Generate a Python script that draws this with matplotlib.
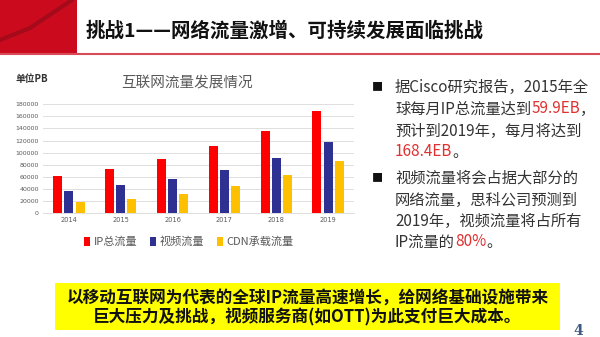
import matplotlib
matplotlib.use("Agg")
import matplotlib.pyplot as plt
import numpy as np
from matplotlib.patches import Rectangle
from matplotlib.lines import Line2D

plt.rcParams['font.family'] = ['Noto Sans CJK SC', 'DejaVu Sans']

# ---- data ----
years = ["2014", "2015", "2016", "2017", "2018", "2019"]
ip_total = [60500, 72900, 89400, 110400, 136400, 168400]
video = [35900, 45800, 56300, 71800, 90500, 117000]
cdn = [17700, 23700, 31500, 44200, 62400, 85600]
series_names = ["IP总流量", "视频流量", "CDN承载流量"]
yticks = [0, 20000, 40000, 60000, 80000, 100000, 120000, 140000, 160000, 180000]

slide_title = "挑战1——网络流量激增、可持续发展面临挑战"
chart_title = "互联网流量发展情况"
unit_label = "单位PB"
bottom_lines = ["以移动互联网为代表的全球IP流量高速增长，给网络基础设施带来",
                "巨大压力及挑战，视频服务商(如OTT)为此支付巨大成本。"]
page_no = "4"

W, H = 600, 337
fig = plt.figure(figsize=(W / 100, H / 100), dpi=100)
fig.patch.set_facecolor("white")


def P(x, y):
    return (x / W, 1 - y / H)


RED = "#cc0a1e"

# ---- header decoration ----
fig.patches.append(Rectangle(P(0, 53), 77 / W, 53 / H, transform=fig.transFigure,
                             facecolor=RED, edgecolor="none", zorder=1))
fig.lines.append(Line2D([0, 1], [1 - 53.5 / H, 1 - 53.5 / H], transform=fig.transFigure,
                        color="#d84a55", linewidth=1.5, zorder=2))
fig.lines.append(Line2D([0 / W, 30 / W, 72 / W], [1 - 40 / H, 1 - 28 / H, 1 - 0 / H],
                        transform=fig.transFigure, color="#5a0a12", alpha=0.35,
                        linewidth=3, zorder=2, solid_capstyle="round"))
fig.text(*P(86, 31), slide_title, fontsize=14, fontweight="bold", color="#111111",
         ha="left", va="center")

# ---- chart ----
ax = fig.add_axes([43 / W, 1 - 213 / H, (354 - 43) / W, (213 - 104.3) / H])
x = np.arange(len(years))
bw = 0.175
off = 0.215
cols = ["#ff0000", "#2e3192", "#ffc000"]
for i, (vals, c, name) in enumerate(zip([ip_total, video, cdn], cols, series_names)):
    ax.bar(x + (i - 1) * off, vals, width=bw, color=c, label=name, zorder=3)
ax.set_xlim(-0.5, len(years) - 0.5)
ax.set_ylim(0, 180000)
ax.set_yticks(yticks)
ax.set_yticklabels([str(v) for v in yticks], fontsize=4.5, color="#595959",
                   family="DejaVu Sans")
ax.set_xticks(x)
ax.set_xticklabels(years, fontsize=4.8, color="#595959", family="DejaVu Sans")
ax.tick_params(length=0, pad=3)
ax.grid(axis="y", color="#d9d9d9", linewidth=0.6, zorder=0)
for s in ["top", "right", "left"]:
    ax.spines[s].set_visible(False)
ax.spines["bottom"].set_color("#d9d9d9")
ax.spines["bottom"].set_linewidth(0.6)

fig.text(*P(187, 83), chart_title, fontsize=10.5, color="#595959", ha="center", va="center")
fig.text(*P(15, 79), unit_label, fontsize=7, color="#333333", ha="left", va="center",
         fontweight="bold")

leg = ax.legend(loc="center", bbox_to_anchor=P(189, 242), bbox_transform=fig.transFigure,
                ncol=3, frameon=False, fontsize=8, handlelength=0.55, handleheight=0.9,
                handletextpad=0.35, columnspacing=1.1, labelcolor="#595959")

# ---- right text ----
TXT = "#333333"
RED_T = "#e03030"
fig.canvas.draw()
renderer = fig.canvas.get_renderer()


def rich_line(x0, y, parts, fs=11):
    xpos = x0
    for s, c in parts:
        t = fig.text(xpos / W, 1 - y / H, s, fontsize=fs, color=c, ha="left", va="center")
        bb = t.get_window_extent(renderer=renderer)
        xpos += bb.width * 100 / fig.dpi


lines1 = [
    [("据Cisco研究报告，2015年全", TXT)],
    [("球每月IP总流量达到", TXT), ("59.9EB", RED_T), ("，", TXT)],
    [("预计到2019年，每月将达到", TXT)],
    [("168.4EB", RED_T), ("。", TXT)],
]
lines2 = [
    [("视频流量将会占据大部分的", TXT)],
    [("网络流量，思科公司预测到", TXT)],
    [("2019年，视频流量将占所有", TXT)],
    [("IP流量的", TXT), ("80%", RED_T), ("。", TXT)],
]
ys1 = [87, 109, 131, 152]
ys2 = [178, 200, 221, 242]
for parts, y in zip(lines1, ys1):
    rich_line(395, y, parts)
for parts, y in zip(lines2, ys2):
    rich_line(395, y, parts)
fig.text(*P(377, 87), "■", fontsize=8, color="#111111", ha="center", va="center")
fig.text(*P(377, 178), "■", fontsize=8, color="#111111", ha="center", va="center")

# ---- bottom box ----
fig.patches.append(Rectangle(P(55, 330), (560 - 55) / W, (330 - 283) / H,
                             transform=fig.transFigure, facecolor="#ffff00",
                             edgecolor="none", zorder=1))
fig.text(*P(307.5, 298), bottom_lines[0], fontsize=12, fontweight="bold", color="#111111",
         ha="center", va="center", zorder=3)
fig.text(*P(307.5, 317), bottom_lines[1], fontsize=12, fontweight="bold", color="#111111",
         ha="center", va="center", zorder=3)
fig.text(*P(578, 331), page_no, fontsize=10, fontweight="bold", color="#3d5a80",
         ha="center", va="center", family="DejaVu Serif")

fig.savefig("out.png", dpi=100, facecolor="white")
